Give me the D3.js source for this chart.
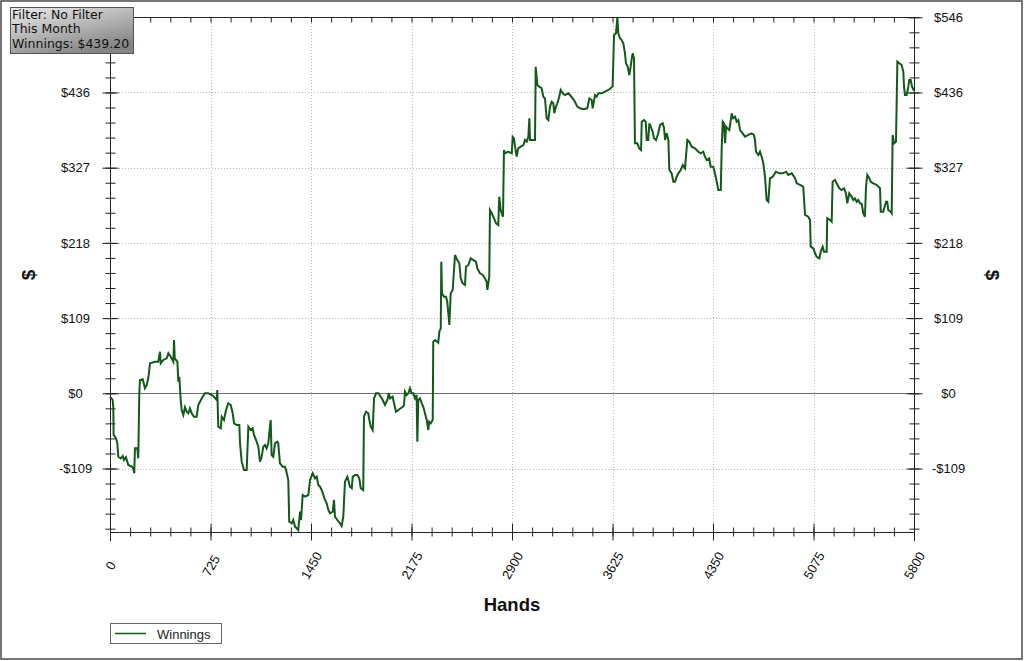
<!DOCTYPE html>
<html><head><meta charset="utf-8">
<script src="https://cdn.jsdelivr.net/npm/d3@7"></script>
<style>
html,body{margin:0;padding:0;background:#fff;}
svg{display:block;}
</style></head>
<body>
<svg id="chart" width="1024" height="661"></svg>
<script>
// ---- data ----
const hands = [0,19,24,26,43,53,60,77,92,101,115,132,157,168,175,180,197,204,211,216,236,252,265,276,289,325,348,361,366,385,409,421,438,457,462,467,486,493,500,510,517,529,541,553,565,577,589,606,625,637,662,685,709,745,770,774,781,
799,806,822,837,853,871,885,895,914,933,938,950,967,986,998,1015,1029,1039,1058,1070,1082,1094,1106,1118,1130,1142,1159,1166,1178,1190,1207,1214,1226,1246,1262,1270,1286,1293,1311,1322,1335,1347,1358,1371,1378,1390,1407,1431,1443,1462,1479,1491,1503,1515,1527,1539,1551,1563,1575,1587,1607,1616,1623,1640,1659,1671,1683,1695,1712,1719,1731,1744,1751,1767,1784,1798,1809,1827,1832,1847,1863,1871,1881,1895,1905,1919,1936,1953,1967,1984,2001,2011,2020,2039,2049,2063,2080,2097,2112,2121,2128,2140,2152,2164,2176,2188,2200,2212,2217,2224,2236,2249,2260,2272,2285,2296,2303,2314,2328,
2332,2345,2368,2376,2386,2390,2395,2409,2424,2433,2448,2458,2472,2489,2505,2520,2530,2544,2561,2568,2585,2602,2621,2640,2650,2669,2689,2705,2717,2722,2736,2741,2754,2770,2785,2801,2808,2818,2835,
2842,2850,2873,2898,2905,2914,2922,2934,2945,2963,2982,2994,3006,3018,3025,3030,3066,3071,3083,3097,3114,3126,3138,3150,3162,3174,3186,3198,3205,3217,3227,3241,3251,3266,3282,3306,3318,3338,3354,3371,3391,3414,3443,3458,3475,3482,3499,3511,3523,3547,3571,3595,3612,3626,3636,3650,3660,3667,3679,3691,3703,3715,3722,3735,3746,3756,3764,3771,3780,3787,3804,3818,3831,3836,3852,3865,3872,3883,3891,3901,3915,3924,3939,3955,3968,3987,3997,4004,4016,4028,4035,4052,4064,4076,4088,4100,4117,4132,4148,4165,4179,4196,4220,4244,4261,4280,4292,4305,4323,4333,4352,4364,4377,4388,4406,4413,4420,4429,4437,4444,4453,4468,4485,4496,4509,4521,4533,4545,4564,4581,4605,4629,4646,4653,4660,4677,4689,4701,4713,4725,4737,4749,4761,4781,4804,4828,4853,4877,4893,4918,4942,4954,4978,
5001,5014,5037,5050,5055,5074,5086,5098,5117,5127,5141,5151,5170,5174,5194,5206,5213,5230,5242,5261,5278,5295,5309,5319,5333,5350,5362,5374,5386,5398,5410,5423,5434,5446,5454,5463,5478,5488,5506,5531,5555,5560,5578,5598,5607,5614,5632,5639,5646,5656,5670,5680,5694,5711,5723,5728,5735,5747,5759,5766,5776,5786,5795,5800];
const winnings = [-5,-9.7,-21.3,-60.5,-65.3,-72.6,-92.1,-94.4,-91,-96.9,-92.9,-104.1,-106.5,-108.9,-116.2,-79.9,-79.9,-94.4,-2.5,19.3,20.3,7.3,12.1,21.8,43.6,45.9,45.9,60.4,43.6,48.4,50.8,58.1,53.1,45.9,77.4,50.8,45.9,16.8,24.1,-9.7,-24.2,-31.5,-20.3,-26.7,-29,-21.8,-29,-34,-34,-17,-7.3,0,0,-3.9,-9.7,4.8,-48.5,
-50.8,-34,-38.8,-24.2,-14.5,-17,-29,-43.6,-46,-46,-72.6,-99.3,-111.4,-111.4,-48.5,-53.3,-50.8,-60.5,-70.3,-77.5,-99.3,-92.1,-77.5,-75.1,-79.9,-72.6,-38.8,-89.6,-92.1,-72.6,-70.3,-72.6,-101.6,-106.5,-106.5,-111.4,-125.9,-186.4,-188.8,-184,-193.7,-196,-198.5,-171.9,-184,-147.7,-150.1,-147.7,-125.9,-116.2,-123.4,-121.1,-133.1,-135.6,-140.4,-147.7,-154.9,-159.7,-169.4,-174.2,-171.9,-154.9,-179.2,-184,-188.8,-192.7,-179.2,-128.4,-121.1,-125.9,-135.6,-137.9,-121.1,-118.6,-118.6,-123.4,-137.9,-140.4,-34,-26.7,-29,-38.8,-48.5,-53.3,-7.3,0,0,-4.9,-9.7,-17,-9.7,0,-7.3,-4.9,-14.5,-26.7,-24.2,-21.8,-19.5,-17,2.3,-2.5,0,7.3,0,0,-7.3,-2.5,-70.3,-9.7,-7.3,-14.5,-19.5,-29,-38.8,-53.3,-41.2,-43.6,-38.8,
74.9,77.4,73.5,89.4,94.4,191.1,145.2,140.3,140.3,133,99.2,145.2,150,200.8,193.5,188.8,167,159.7,157.3,183.8,186.3,196,193.5,191.1,181.5,174.2,171.8,167,162,150,169.3,266.1,261.4,254.1,246.8,244.4,285.5,266.1,256.4,
353.3,348.5,350.8,348.5,372.2,370.3,358.1,343.6,355.7,358.1,360.5,367.8,365.3,372.6,399.3,367.8,367.8,474.2,447.7,445.2,442.9,430.7,428.3,399.3,396.8,416.2,423.4,421.1,406.6,416.2,421.1,430.7,440.4,435.6,433.1,435.6,433.1,428.3,423.4,416.2,413.8,412.4,413.8,428.3,425.9,413.8,433.1,430.7,435.6,435.6,437.9,440.4,442.9,446.2,520.3,522.7,546,522.7,515.5,513,508.2,493.7,479.2,474.2,462.2,474.2,486.4,493.7,486.4,363,363,355.7,353.3,394.4,396.8,394.4,367.8,367.8,392,387.1,379.8,370.3,367.8,377.5,389.6,392,384.8,367.8,377.5,367.8,324.2,319.4,307.2,307.2,314.5,319.4,324.2,331.5,326.7,367.8,365.3,358.1,355.7,350.8,348.5,350.8,343.6,338.8,341.2,329,329,319.4,307.2,295.2,295.2,358.1,394.4,392,363,387.1,384.8,382.3,406.6,399.3,401.6,394.4,396.8,382.3,377.5,372.6,375.1,377.5,375.1,367.8,350.8,346,350.8,343.6,334,314.5,280.7,278.2,312.2,314.5,321.8,319.4,319.4,321.8,317,319.4,312.2,304.9,302.5,
300,258.9,256.4,251.6,212.9,210.5,203.3,198.3,196,205.6,212.9,205.6,205.6,254.1,251.6,249.2,307.2,309.7,304.9,297.7,295.2,297.7,290.4,275.9,290.4,285.5,280.7,283.1,278.2,280.7,275.9,274.9,261.4,256.4,300,317,312.2,307.2,304.9,302.5,297.7,263.7,263.7,278.2,278.2,266.1,263.7,261.4,375.1,363,365.3,481.5,479.2,476.7,467,445.2,433.1,433.1,445.2,454.9,454.9,445.2,441.4,439.2];

const xTickValues = [0,725,1450,2175,2900,3625,4350,5075,5800];
const yTickValues = [-109.2,0,109.2,218.4,327.6,436.8,546];
const yTickLabels = ["-$109","$0","$109","$218","$327","$436","$546"];
const infoLines = ["Filter: No Filter","This Month","Winnings: $439.20"];
const seriesName = "Winnings";
const xTitle = "Hands", yTitle = "$";
const yDomain = [-201.4, 546.4], xDomain = [0, 5800];

// ---- layout ----
const L = 110, R = 914, T = 17, B = 532;
const lineColor = "#12591a";
const svg = d3.select("#chart");
const x = d3.scaleLinear(xDomain, [L, R]);
const y = d3.scaleLinear(yDomain, [B, T]);
const xMinor = d3.range(0, 5800.1, 145);
const yMinor = d3.range(-196.56, 546.1, 21.84);

// outer frame
svg.append("rect").attr("x",1).attr("y",1).attr("width",1021).attr("height",658)
  .attr("fill","#fff").attr("stroke","#4a4a4a").attr("stroke-width",1.5);

// grid
const g = svg.append("g");
g.selectAll(".vg").data(xTickValues.filter(v=>v>0&&v<5800)).join("line")
  .attr("x1",d=>Math.round(x(d))+0.5).attr("x2",d=>Math.round(x(d))+0.5).attr("y1",T).attr("y2",B)
  .attr("stroke","#b8b8b8").attr("stroke-dasharray","1,2");
g.selectAll(".hg").data(yTickValues.filter(v=>v!==0&&v<546)).join("line")
  .attr("y1",d=>Math.round(y(d))+0.5).attr("y2",d=>Math.round(y(d))+0.5).attr("x1",L).attr("x2",R)
  .attr("stroke","#b8b8b8").attr("stroke-dasharray","1,2");
// zero line
g.append("line").attr("x1",L).attr("x2",R).attr("y1",Math.round(y(0))+0.5).attr("y2",Math.round(y(0))+0.5)
  .attr("stroke","#6e6e6e").attr("stroke-width",1);

// axes helper
function styleAxis(sel){ sel.select(".domain").remove(); sel.selectAll("line").attr("stroke","#222"); }

// left axis (major + minor crossing ticks); its top label sits under the info box in the reference
const yMinAx = svg.append("g").attr("transform",`translate(${L+0.5},0)`)
  .call(d3.axisLeft(y).tickValues(yMinor).tickFormat("").tickSize(5));
yMinAx.call(styleAxis); yMinAx.selectAll("line").attr("x1",-5).attr("x2",5);
const yAx = svg.append("g").attr("transform",`translate(${L+0.5},0)`)
  .call(d3.axisLeft(y).tickValues(yTickValues).tickFormat((d,i)=> i===yTickValues.length-1 ? "" : yTickLabels[i]).tickSize(8));
yAx.call(styleAxis); yAx.selectAll("line").attr("x1",-8).attr("x2",8);
yAx.selectAll("text").attr("x",-35).attr("text-anchor","middle")
  .style("font","13px 'Liberation Sans', Arial, sans-serif").attr("fill","#111");

// right axis
const yMinAxR = svg.append("g").attr("transform",`translate(${R+0.5},0)`)
  .call(d3.axisRight(y).tickValues(yMinor).tickFormat("").tickSize(5));
yMinAxR.call(styleAxis); yMinAxR.selectAll("line").attr("x1",-5).attr("x2",5);
const yAxR = svg.append("g").attr("transform",`translate(${R+0.5},0)`)
  .call(d3.axisRight(y).tickValues(yTickValues).tickFormat((d,i)=>yTickLabels[i]).tickSize(8));
yAxR.call(styleAxis); yAxR.selectAll("line").attr("x1",-8).attr("x2",8);
yAxR.selectAll("text").attr("x",34).attr("text-anchor","middle")
  .style("font","13px 'Liberation Sans', Arial, sans-serif").attr("fill","#111");

// bottom axis
const xMinAx = svg.append("g").attr("transform",`translate(0,${B+0.5})`)
  .call(d3.axisBottom(x).tickValues(xMinor).tickFormat("").tickSize(4));
xMinAx.call(styleAxis); xMinAx.selectAll("line").attr("y1",-5).attr("y2",4);
const xAx = svg.append("g").attr("transform",`translate(0,${B+0.5})`)
  .call(d3.axisBottom(x).tickValues(xTickValues).tickFormat(d3.format("d")).tickSize(8));
xAx.call(styleAxis); xAx.selectAll("line").attr("y1",-9).attr("y2",8);
xAx.selectAll("text").attr("y",0).attr("dy","0.35em").attr("text-anchor","middle")
  .attr("transform","translate(0,33) rotate(-60)")
  .style("font","13px 'Liberation Sans', Arial, sans-serif").attr("fill","#111");

// top axis
const xTopAx = svg.append("g").attr("transform",`translate(0,${T+0.5})`)
  .call(d3.axisTop(x).tickValues(xMinor).tickFormat("").tickSize(5));
xTopAx.call(styleAxis); xTopAx.selectAll("line").attr("y1",0).attr("y2",5);

// frame lines of plot
const fr = svg.append("g").attr("stroke","#222").attr("stroke-width",1);
fr.append("line").attr("x1",L+0.5).attr("x2",L+0.5).attr("y1",T).attr("y2",B+9);
fr.append("line").attr("x1",R+0.5).attr("x2",R+0.5).attr("y1",T).attr("y2",B+9);
fr.append("line").attr("x1",L).attr("x2",R+1).attr("y1",B+0.5).attr("y2",B+0.5);
fr.append("line").attr("x1",L).attr("x2",R+1).attr("y1",T+0.5).attr("y2",T+0.5);

// series line
const pts = hands.map((h,i)=>[h,winnings[i]]);
svg.append("path").datum(pts)
  .attr("d", d3.line().x(d=>x(d[0])).y(d=>y(d[1])))
  .attr("fill","none").attr("stroke",lineColor).attr("stroke-width",2).attr("stroke-linejoin","miter");

// titles
svg.append("text").attr("x",512).attr("y",611).attr("text-anchor","middle")
  .style("font","bold 18.5px 'Liberation Sans', Arial, sans-serif").attr("fill","#111").text(xTitle);
svg.append("text").attr("transform","translate(28,275) rotate(-90)").attr("text-anchor","middle").attr("dy","0.35em")
  .style("font","bold 19px 'Liberation Sans', Arial, sans-serif").attr("fill","#111").text(yTitle);
svg.append("text").attr("transform","translate(993,275) rotate(90)").attr("text-anchor","middle").attr("dy","0.35em")
  .style("font","bold 19px 'Liberation Sans', Arial, sans-serif").attr("fill","#111").text(yTitle);

// info box
const defs = svg.append("defs");
const gr = defs.append("linearGradient").attr("id","ibg").attr("x1","0").attr("y1","0").attr("x2","0.6").attr("y2","1");
gr.append("stop").attr("offset","0").attr("stop-color","#ececec");
gr.append("stop").attr("offset","1").attr("stop-color","#858585");
svg.append("rect").attr("x",10.5).attr("y",7.5).attr("width",123).attr("height",46)
  .attr("fill","url(#ibg)").attr("stroke","#555");
svg.append("g").selectAll("text").data(infoLines).join("text")
  .attr("x",12).attr("y",(d,i)=>18.5+i*14.6)
  .style("font","12.5px 'DejaVu Sans', Verdana, sans-serif").attr("fill","#111").text(d=>d);

// legend
const lg = svg.append("g");
lg.append("rect").attr("x",110.5).attr("y",623.5).attr("width",111).attr("height",20)
  .attr("fill","#fff").attr("stroke","#666");
lg.append("line").attr("x1",115).attr("x2",146).attr("y1",633.5).attr("y2",633.5)
  .attr("stroke",lineColor).attr("stroke-width",1.5);
lg.append("text").attr("x",157).attr("y",638.5)
  .style("font","13px 'Liberation Sans', Arial, sans-serif").attr("fill","#222").text(seriesName);
</script>
</body></html>
